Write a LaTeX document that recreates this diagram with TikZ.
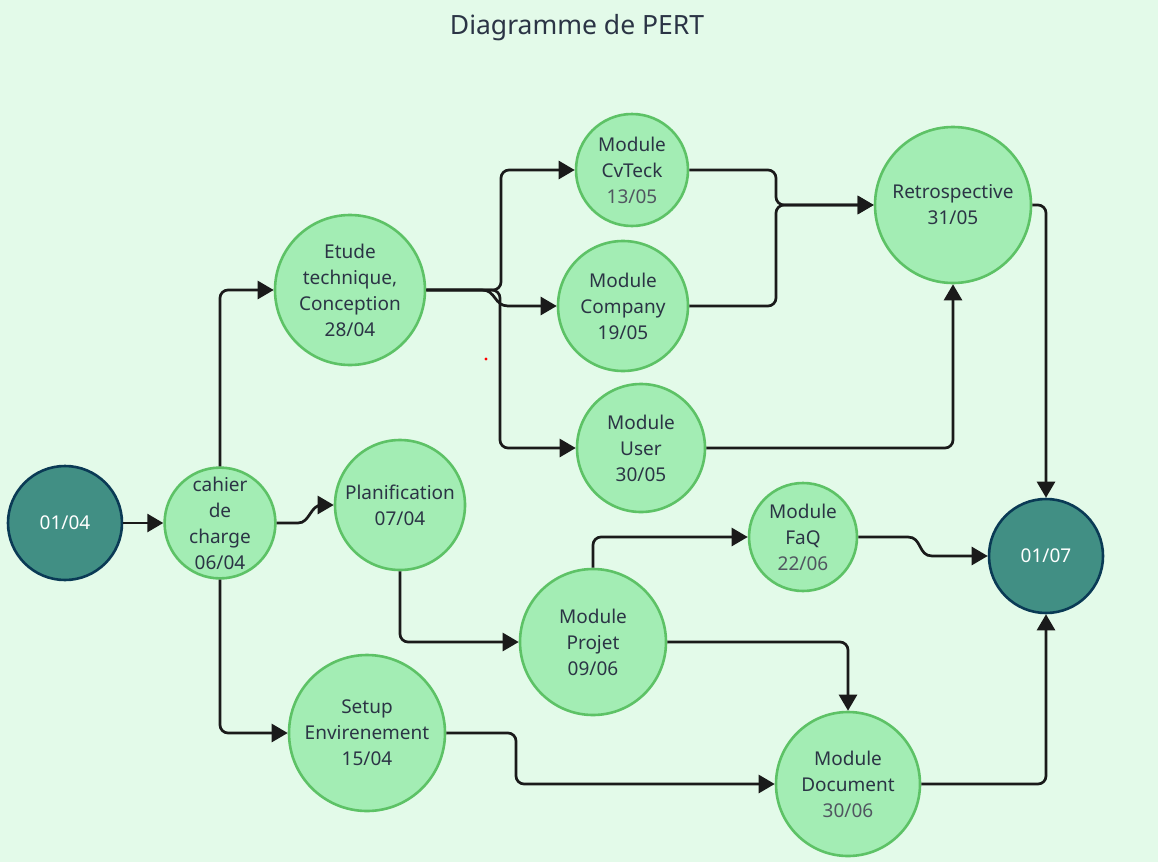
\documentclass[tikz,border=0pt]{standalone}
\usepackage{fontspec}
\setmainfont{Noto Sans}
\usetikzlibrary{arrows.meta}
\definecolor{bgc}{RGB}{227,250,233}
\definecolor{lfill}{RGB}{163,237,180}
\definecolor{lborder}{RGB}{93,194,102}
\definecolor{tfill}{RGB}{65,143,132}
\definecolor{tborder}{RGB}{10,58,85}
\definecolor{txtc}{RGB}{43,52,69}
\definecolor{datec}{RGB}{80,86,96}
\definecolor{linec}{RGB}{26,26,26}
\tikzset{
  task/.style={circle, draw=lborder, fill=lfill, line width=2.6pt, inner sep=0pt,
    align=center, text=txtc, font=\fontsize{19}{26}\selectfont},
  milestone/.style={circle, draw=tborder, fill=tfill, line width=2.6pt, inner sep=0pt,
    align=center, text=white, font=\fontsize{19}{26}\selectfont},
  arr/.style={draw=linec, line width=2.7pt, rounded corners=8pt,
    -{Triangle[length=16pt,width=18pt]}},
  sarr/.style={draw=linec, line width=2.7pt, sharp corners,
    -{Triangle[length=16pt,width=18pt]}},
}
\begin{document}
\begin{tikzpicture}[x=1pt,y=-1pt]
\fill[bgc] (0,0) rectangle (1158,862);
\useasboundingbox (0,0) rectangle (1158,862);

\node[text=txtc, font=\fontsize{26.5}{30}\selectfont] (title) at (577,28) {Diagramme de PERT};

\node[milestone, minimum size=114pt] (start) at (65,523) {01/04};
\node[milestone, minimum size=114pt] (end) at (1046,556) {01/07};

\node[task, minimum size=108pt] (cahier) at (220,523) {cahier\\de\\charge\\06/04};
\node[task, minimum size=150pt] (etude) at (350,290) {Etude\\technique,\\Conception\\28/04};
\node[task, minimum size=130pt] (plan) at (400,505) {Planification\\07/04};
\node[task, minimum size=156pt] (setup) at (367,733) {Setup\\Envirenement\\15/04};
\node[task, minimum size=112pt] (cvteck) at (632,170) {Module\\CvTeck\\\textcolor{datec}{13/05}};
\node[task, minimum size=130pt] (company) at (623,306) {Module\\Company\\19/05};
\node[task, minimum size=128pt] (user) at (641,448) {Module\\User\\30/05};
\node[task, minimum size=156pt] (retro) at (953,205) {Retrospective\\31/05};
\node[task, minimum size=108pt] (faq) at (803,537) {Module\\FaQ\\\textcolor{datec}{22/06}};
\node[task, minimum size=146pt] (projet) at (593,642) {Module\\Projet\\09/06};
\node[task, minimum size=144pt] (doc) at (848,784) {Module\\Document\\\textcolor{datec}{30/06}};

\fill[red] (486,359) circle (1.6pt);

\draw[arr] (start.east) -- (cahier.west);
\draw[arr] (cahier.north) -- (220,290) -- (etude.west);
\draw[arr] (cahier.south) -- (220,733) -- (setup.west);
\draw[sarr] (cahier.east) -- (298,523) .. controls (310,523) and (310,505) .. (322,505) -- (plan.west);

\draw[arr] (etude.east) -- (501,290) -- (501,170) -- (cvteck.west);
\draw[sarr] (etude.east) -- (482,290) .. controls (496,290) and (494,306) .. (508,306) -- (company.west);
\draw[arr] (etude.east) -- (500,290) -- (500,448) -- (user.west);

\draw[arr] (cvteck.east) -- (776,170) -- (776,205) -- (retro.west);
\draw[arr] (company.east) -- (776,306) -- (776,205) -- (retro.west);
\draw[arr] (user.east) -- (953,448) -- (retro.south);
\draw[arr] (retro.east) -- (1046,205) -- (end.north);

\draw[arr] (plan.south) -- (400,642) -- (projet.west);
\draw[arr] (projet.north) -- (593,537) -- (faq.west);
\draw[sarr] (faq.east) -- (908,537) .. controls (922,537) and (918,556) .. (932,556) -- (end.west);
\draw[arr] (projet.east) -- (848,642) -- (doc.north);
\draw[arr] (setup.east) -- (516,733) -- (516,784) -- (doc.west);
\draw[arr] (doc.east) -- (1046,784) -- (end.south);
\end{tikzpicture}
\end{document}
